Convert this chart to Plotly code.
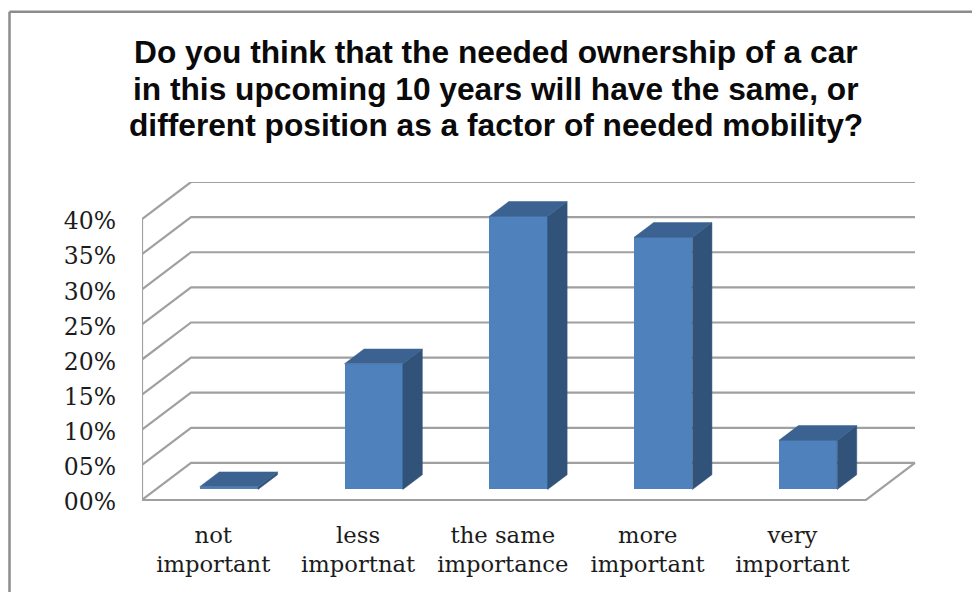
import plotly.graph_objects as go

categories = ["not<br>important", "less<br>importnat", "the same<br>importance", "more<br>important", "very<br>important"]
values = [0.4, 17.9, 38.9, 35.9, 7.0]
y_ticks = [0, 5, 10, 15, 20, 25, 30, 35, 40]
y_labels = ["00%", "05%", "10%", "15%", "20%", "25%", "30%", "35%", "40%"]
title_lines = [
    "Do you think that the needed ownership of a car",
    "in this upcoming 10 years will have the same, or",
    "different position as a factor of needed mobility?",
]

W, H = 972, 592
L, R, T, B = 142, 916, 181.7, 499.5
PX_PER_CAT = 144.8
PX_PER_PCT = 7.02
AXIS_PAD = 1.0            # percent units of room below zero, so labels can sit slightly low
WALL_DX = 49 / PX_PER_CAT
WALL_DY = 37 / PX_PER_PCT
BAR_SHIFT_X = 0.1
BAR_SHIFT_Y = 10.5 / PX_PER_PCT
BAR_W = 58.3 / PX_PER_CAT
BAR_DX = 19.5 / PX_PER_CAT
BAR_DY = 14.7 / PX_PER_PCT
LABEL_SHIFT_Y = -0.3
LABEL_SHIFT_X = -0.008
x_left, x_right = -0.5, len(categories) - 0.5
x_range = [x_left, x_left + (R - L) / PX_PER_CAT]
y_range = [-AXIS_PAD, (B - T) / PX_PER_PCT]
B_PX = B + AXIS_PAD * PX_PER_PCT
positions = list(range(len(categories)))

GRID = "#a0a0a0"
FRONT = "#4f81bd"
SIDE = "#325379"
TOP = "#3b6290"

gx, gy = [], []
for v in y_ticks:
    gx += [x_left, x_left + WALL_DX, x_right + WALL_DX, None]
    gy += [v, v + WALL_DY, v + WALL_DY, None]
gx += [x_left, x_left, None, x_left, x_right, x_right + WALL_DX, None]
gy += [y_ticks[-1], 0, None, 0, 0, WALL_DY, None]

side_x, side_y, top_x, top_y = [], [], [], []
bar_x = [p + BAR_SHIFT_X for p in positions]
for cx, v in zip(bar_x, values):
    xl, xr = cx - BAR_W / 2, cx + BAR_W / 2
    y0, y1 = BAR_SHIFT_Y, BAR_SHIFT_Y + v
    side_x += [xr, xr + BAR_DX, xr + BAR_DX, xr, xr, None]
    side_y += [y0, y0 + BAR_DY, y1 + BAR_DY, y1, y0, None]
    top_x += [xl, xl + BAR_DX, xr + BAR_DX, xr, xl, None]
    top_y += [y1, y1 + BAR_DY, y1 + BAR_DY, y1, y1, None]

fig = go.Figure()
fig.add_trace(go.Scatter(x=gx, y=gy, mode="lines", cliponaxis=False,
                         line=dict(color=GRID, width=2.2), hoverinfo="skip"))
fig.add_trace(go.Bar(x=bar_x, y=values, base=BAR_SHIFT_Y, width=BAR_W, xaxis="x2", yaxis="y2",
                     marker=dict(color=FRONT, line=dict(width=0)), cliponaxis=False))
fig.add_trace(go.Scatter(x=side_x, y=side_y, mode="lines", fill="toself", fillcolor=SIDE, xaxis="x2", yaxis="y2",
                         line=dict(color=SIDE, width=0.5), cliponaxis=False, hoverinfo="skip"))
fig.add_trace(go.Scatter(x=top_x, y=top_y, mode="lines", fill="toself", fillcolor=TOP, xaxis="x2", yaxis="y2",
                         line=dict(color=TOP, width=0.5), cliponaxis=False, hoverinfo="skip"))

X_FONT = dict(family="DejaVu Serif", size=22.7, color="#1c1c1c")
Y_FONT = dict(family="DejaVu Serif", size=23.5, color="#1c1c1c")
title_y_px = [52, 88.5, 125]
annotations = [
    dict(text=t, xref="paper", yref="paper", x=(495.5 - L) / (R - L), y=(B_PX - py) / (B_PX - T),
         xanchor="center", yanchor="middle", showarrow=False,
         font=dict(family="Liberation Sans", size=31.7, color="#0a0a0a", weight="bold"))
    for t, py in zip(title_lines, title_y_px)
]
fy = lambda py: (B_PX - py) / (B_PX - T)
fx = lambda px: (px - L) / (R - L)
fig.update_layout(
    width=W, height=H, autosize=False, showlegend=False, hovermode=False,
    paper_bgcolor="white", plot_bgcolor="white",
    margin=dict(l=L, r=W - R, t=T, b=H - B_PX, pad=0),
    bargap=0,
    annotations=annotations,
    xaxis=dict(range=x_range, tickvals=[p + LABEL_SHIFT_X for p in positions], ticktext=categories, showgrid=False,
               zeroline=False, showline=False, ticks="", tickfont=X_FONT, ticklabelstandoff=12, tickangle=0),
    yaxis=dict(range=y_range, tickvals=[v + LABEL_SHIFT_Y for v in y_ticks], ticktext=y_labels, showgrid=False,
               zeroline=False, showline=False, ticks="", tickfont=Y_FONT, ticklabelstandoff=25),
    xaxis2=dict(range=x_range, overlaying="x", visible=False),
    yaxis2=dict(range=y_range, overlaying="y", visible=False),
    shapes=[
        dict(type="line", xref="paper", yref="paper", layer="below",
             x0=fx(9.5), x1=fx(W), y0=fy(11.5), y1=fy(11.5), line=dict(color="#8c8c8c", width=2.5)),
        dict(type="line", xref="paper", yref="paper", layer="below",
             x0=fx(9.5), x1=fx(9.5), y0=fy(11.5), y1=fy(H), line=dict(color="#8c8c8c", width=2.5)),
    ],
)
fig.write_html("out.html", config={"displayModeBar": False}, post_script="document.body.style.margin='0';")
